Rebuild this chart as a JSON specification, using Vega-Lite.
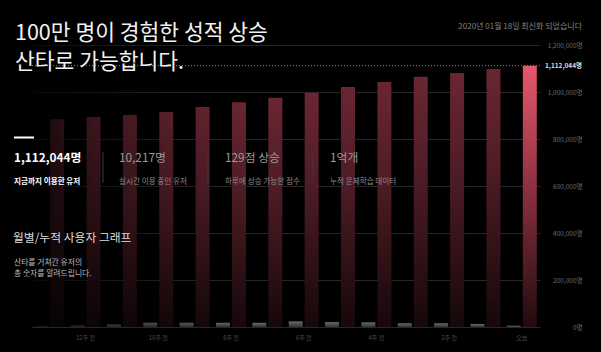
{
  "$schema": "https://vega.github.io/schema/vega-lite/v6.json",
  "autosize": {"type": "none"},
  "width": 509,
  "height": 282,
  "padding": {"left": 31, "top": 45, "right": 61, "bottom": 25},
  "background": "#000000",
  "config": {"view": {"stroke": null}, "font": "Noto Sans CJK KR"},
  "datasets": {
    "bars": [
      {"week": "13주 전", "series": "weekly", "value": 5000},
      {"week": "12주 전", "series": "weekly", "value": 7000},
      {"week": "11주 전", "series": "weekly", "value": 11000},
      {"week": "10주 전", "series": "weekly", "value": 18000},
      {"week": "9주 전", "series": "weekly", "value": 18000},
      {"week": "8주 전", "series": "weekly", "value": 18000},
      {"week": "7주 전", "series": "weekly", "value": 18000},
      {"week": "6주 전", "series": "weekly", "value": 24000},
      {"week": "5주 전", "series": "weekly", "value": 21000},
      {"week": "4주 전", "series": "weekly", "value": 20000},
      {"week": "3주 전", "series": "weekly", "value": 16000},
      {"week": "2주 전", "series": "weekly", "value": 16000},
      {"week": "1주 전", "series": "weekly", "value": 13000},
      {"week": "오늘", "series": "weekly", "value": 5500},
      {"week": "13주 전", "series": "total", "value": 884000},
      {"week": "12주 전", "series": "total", "value": 893500},
      {"week": "11주 전", "series": "total", "value": 902000},
      {"week": "10주 전", "series": "total", "value": 915000},
      {"week": "9주 전", "series": "total", "value": 936000},
      {"week": "8주 전", "series": "total", "value": 956000},
      {"week": "7주 전", "series": "total", "value": 975500},
      {"week": "6주 전", "series": "total", "value": 997000},
      {"week": "5주 전", "series": "total", "value": 1021000},
      {"week": "4주 전", "series": "total", "value": 1042500},
      {"week": "3주 전", "series": "total", "value": 1065000},
      {"week": "2주 전", "series": "total", "value": 1081000},
      {"week": "1주 전", "series": "total", "value": 1098000},
      {"week": "오늘", "series": "total", "value": 1112044}
    ],
    "notes": [
      {"key": "h1", "text": "100만 명이 경험한 성적 상승"},
      {"key": "h2", "text": "산타로 가능합니다."},
      {"key": "date", "text": "2020년 01월 18일 최신화 되었습니다"},
      {"key": "s1", "text": "1,112,044명"},
      {"key": "s1l", "text": "지금까지 이용한 유저"},
      {"key": "s2", "text": "10,217명"},
      {"key": "s2l", "text": "실시간 이용 중인 유저"},
      {"key": "s3", "text": "129점 상승"},
      {"key": "s3l", "text": "하루에 상승 가능한 점수"},
      {"key": "s4", "text": "1억개"},
      {"key": "s4l", "text": "누적 문제학습 데이터"},
      {"key": "sec", "text": "월별/누적 사용자 그래프"},
      {"key": "d1", "text": "산타를 거쳐간 유저의"},
      {"key": "d2", "text": "총 숫자를 알려드립니다."},
      {"key": "cur", "text": "1,112,044명"}
    ]
  },
  "layer": [
    {
      "data": {"name": "bars"},
      "transform": [{"filter": "datum.series == 'weekly'"}],
      "mark": {"type": "bar", "fill": {"gradient": "linear", "x1": 0, "y1": 0, "x2": 0, "y2": 1, "stops": [{"offset": 0, "color": "#6a6a6a"}, {"offset": 1, "color": "#333333"}]}},
      "encoding": {
        "x": {"field": "week", "type": "nominal", "scale": {"domain": ["13주 전", "12주 전", "11주 전", "10주 전", "9주 전", "8주 전", "7주 전", "6주 전", "5주 전", "4주 전", "3주 전", "2주 전", "1주 전", "오늘"], "paddingInner": 0, "paddingOuter": 0},
          "axis": {"title": null, "values": ["12주 전", "10주 전", "8주 전", "6주 전", "4주 전", "2주 전", "오늘"], "labelAngle": 0, "domain": false, "ticks": false, "labelColor": "#4a4a4a", "labelFontSize": 6, "labelPadding": 7, "labelFont": "Noto Sans CJK KR"}},
        "xOffset": {"field": "series", "type": "nominal", "scale": {"domain": ["weekly", "total"], "paddingInner": 0.125, "paddingOuter": 0.2}},
        "y": {"field": "value", "type": "quantitative", "scale": {"domain": [0, 1200000]},
          "axis": {"orient": "right", "title": null, "values": [0, 200000, 400000, 600000, 800000, 1000000, 1200000], "labelExpr": "format(datum.value, ',') + '명'", "grid": true, "gridColor": "#262626", "domain": false, "ticks": false, "labelColor": "#6a6a6a", "labelFontSize": 6.5, "labelAlign": "right", "labelPadding": 42, "labelFont": "Noto Sans CJK KR"}}
      }
    },
    {
      "data": {"name": "bars"},
      "transform": [{"filter": "datum.series == 'total' && datum.week != '오늘'"}],
      "mark": {"type": "bar", "fill": {"gradient": "linear", "x1": 0, "y1": 0, "x2": 0, "y2": 1, "stops": [{"offset": 0, "color": "#6a2632"}, {"offset": 0.4, "color": "#4e1c26"}, {"offset": 1, "color": "#160809"}]}},
      "encoding": {
        "x": {"field": "week", "type": "nominal"},
        "xOffset": {"field": "series", "type": "nominal"},
        "y": {"field": "value", "type": "quantitative"}
      }
    },
    {
      "data": {"name": "bars"},
      "transform": [{"filter": "datum.series == 'total' && datum.week == '오늘'"}],
      "mark": {"type": "bar", "fill": {"gradient": "linear", "x1": 0, "y1": 0, "x2": 0, "y2": 1, "stops": [{"offset": 0, "color": "#e6586b"}, {"offset": 0.45, "color": "#8e3242"}, {"offset": 1, "color": "#220a0e"}]}},
      "encoding": {
        "x": {"field": "week", "type": "nominal"},
        "xOffset": {"field": "series", "type": "nominal"},
        "y": {"field": "value", "type": "quantitative"}
      }
    },
    {
      "data": {"values": [{}]},
      "mark": {"type": "rect", "fill": {"gradient": "linear", "x1": 0, "y1": 0, "x2": 1, "y2": 0, "stops": [{"offset": 0, "color": "rgba(0,0,0,0.8)"}, {"offset": 0.12, "color": "rgba(0,0,0,0.45)"}, {"offset": 0.27, "color": "rgba(0,0,0,0.18)"}, {"offset": 0.42, "color": "rgba(0,0,0,0)"}, {"offset": 1, "color": "rgba(0,0,0,0)"}]}},
      "encoding": {}
    },
    {
      "data": {"values": [{}]},
      "mark": {"type": "rule", "color": "#8a8a8a", "strokeDash": [1, 2], "strokeWidth": 1},
      "encoding": {"y": {"datum": 1112044}}
    },
    {
      "data": {"name": "notes"},
      "transform": [{"filter": "datum.key == 'cur'"}],
      "mark": {"type": "text", "align": "right", "baseline": "middle", "fontSize": 6.5, "fontWeight": "bold", "color": "#dddddd"},
      "encoding": {"x": {"value": 551}, "y": {"datum": 1112044}, "text": {"field": "text"}}
    },
    {
      "data": {"name": "notes"},
      "transform": [{"filter": "datum.key == 'h1'"}],
      "mark": {"type": "text", "align": "left", "baseline": "middle", "fontSize": 21.5, "color": "#f2f2f2"},
      "encoding": {"x": {"value": -16}, "y": {"value": -11}, "text": {"field": "text"}}
    },
    {
      "data": {"name": "notes"},
      "transform": [{"filter": "datum.key == 'h2'"}],
      "mark": {"type": "text", "align": "left", "baseline": "middle", "fontSize": 21.5, "color": "#f2f2f2"},
      "encoding": {"x": {"value": -16}, "y": {"value": 18}, "text": {"field": "text"}}
    },
    {
      "data": {"name": "notes"},
      "transform": [{"filter": "datum.key == 'date'"}],
      "mark": {"type": "text", "align": "right", "baseline": "middle", "fontSize": 8, "color": "#808080"},
      "encoding": {"x": {"value": 551}, "y": {"value": -18}, "text": {"field": "text"}}
    },
    {
      "data": {"values": [{}]},
      "mark": {"type": "rule", "color": "#ffffff", "strokeWidth": 2},
      "encoding": {"x": {"value": -17}, "x2": {"value": 3}, "y": {"value": 92.5}}
    },
    {
      "data": {"values": [{"p": 72}, {"p": 177}, {"p": 282}]},
      "mark": {"type": "rule", "color": "#3a3a3a", "strokeWidth": 1},
      "encoding": {"x": {"field": "p", "type": "quantitative", "scale": null}, "y": {"value": 107}, "y2": {"value": 138}}
    },
    {
      "data": {"name": "notes"},
      "transform": [{"filter": "datum.key == 's1'"}],
      "mark": {"type": "text", "align": "left", "baseline": "middle", "fontSize": 11.8, "fontWeight": "bold", "color": "#ffffff"},
      "encoding": {"x": {"value": -17}, "y": {"value": 112.5}, "text": {"field": "text"}}
    },
    {
      "data": {"name": "notes"},
      "transform": [{"filter": "datum.key == 's1l'"}],
      "mark": {"type": "text", "align": "left", "baseline": "middle", "fontSize": 7.6, "fontWeight": "bold", "color": "#ffffff"},
      "encoding": {"x": {"value": -17}, "y": {"value": 137}, "text": {"field": "text"}}
    },
    {
      "data": {"name": "notes"},
      "transform": [{"filter": "datum.key == 's2'"}],
      "mark": {"type": "text", "align": "left", "baseline": "middle", "fontSize": 11.8, "color": "#9a9a9a"},
      "encoding": {"x": {"value": 88}, "y": {"value": 112.5}, "text": {"field": "text"}}
    },
    {
      "data": {"name": "notes"},
      "transform": [{"filter": "datum.key == 's2l'"}],
      "mark": {"type": "text", "align": "left", "baseline": "middle", "fontSize": 7.6, "color": "#8a8a8a"},
      "encoding": {"x": {"value": 88}, "y": {"value": 137}, "text": {"field": "text"}}
    },
    {
      "data": {"name": "notes"},
      "transform": [{"filter": "datum.key == 's3'"}],
      "mark": {"type": "text", "align": "left", "baseline": "middle", "fontSize": 11.8, "color": "#9a9a9a"},
      "encoding": {"x": {"value": 194}, "y": {"value": 112.5}, "text": {"field": "text"}}
    },
    {
      "data": {"name": "notes"},
      "transform": [{"filter": "datum.key == 's3l'"}],
      "mark": {"type": "text", "align": "left", "baseline": "middle", "fontSize": 7.6, "color": "#8a8a8a"},
      "encoding": {"x": {"value": 194}, "y": {"value": 137}, "text": {"field": "text"}}
    },
    {
      "data": {"name": "notes"},
      "transform": [{"filter": "datum.key == 's4'"}],
      "mark": {"type": "text", "align": "left", "baseline": "middle", "fontSize": 11.8, "color": "#9a9a9a"},
      "encoding": {"x": {"value": 299}, "y": {"value": 112.5}, "text": {"field": "text"}}
    },
    {
      "data": {"name": "notes"},
      "transform": [{"filter": "datum.key == 's4l'"}],
      "mark": {"type": "text", "align": "left", "baseline": "middle", "fontSize": 7.6, "color": "#8a8a8a"},
      "encoding": {"x": {"value": 299}, "y": {"value": 137}, "text": {"field": "text"}}
    },
    {
      "data": {"name": "notes"},
      "transform": [{"filter": "datum.key == 'sec'"}],
      "mark": {"type": "text", "align": "left", "baseline": "middle", "fontSize": 11.8, "color": "#dddddd"},
      "encoding": {"x": {"value": -18}, "y": {"value": 193}, "text": {"field": "text"}}
    },
    {
      "data": {"name": "notes"},
      "transform": [{"filter": "datum.key == 'd1'"}],
      "mark": {"type": "text", "align": "left", "baseline": "middle", "fontSize": 7.8, "color": "#bbbbbb"},
      "encoding": {"x": {"value": -17}, "y": {"value": 218}, "text": {"field": "text"}}
    },
    {
      "data": {"name": "notes"},
      "transform": [{"filter": "datum.key == 'd2'"}],
      "mark": {"type": "text", "align": "left", "baseline": "middle", "fontSize": 7.8, "color": "#bbbbbb"},
      "encoding": {"x": {"value": -17}, "y": {"value": 228.5}, "text": {"field": "text"}}
    }
  ]
}
